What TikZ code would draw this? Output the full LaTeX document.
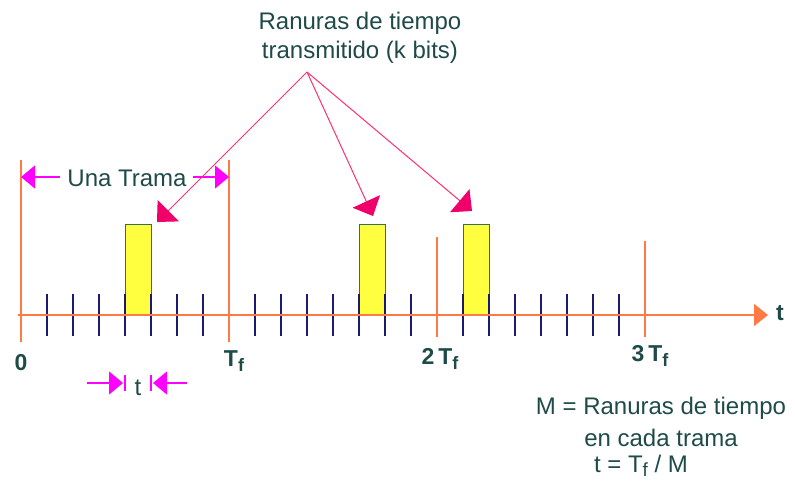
\documentclass[tikz,border=0pt]{standalone}
\usepackage{fontspec}
\setmainfont{Liberation Sans}
\usetikzlibrary{arrows.meta}
\definecolor{txt}{HTML}{1E4A48}
\definecolor{navy}{HTML}{1A1A70}
\definecolor{orng}{HTML}{FF7A45}
\definecolor{mag}{HTML}{FF00FF}
\definecolor{crim}{HTML}{F0006A}
\definecolor{pinkln}{HTML}{FF2F70}
\definecolor{slotfill}{HTML}{FFFF40}
\definecolor{slotedge}{HTML}{2F6F60}
\begin{document}
\begin{tikzpicture}[x=1pt,y=-1pt,
  lbl/.style={text=txt,font=\fontsize{24}{29}\selectfont,inner sep=0pt},
  blbl/.style={text=txt,font=\fontsize{23}{29}\selectfont\bfseries,inner sep=0pt},
  tickln/.style={navy,line width=1.4pt},
  frameln/.style={orng,line width=1.2pt},
  slotbox/.style={draw=slotedge,fill=slotfill,line width=1.3pt,minimum width=26pt,minimum height=90pt,inner sep=0pt},
  marrow/.style={mag,line width=1.2pt,-{Triangle[length=14pt,width=23pt]}},
  parrow/.style={pinkln,line width=1pt,-{Triangle[length=16pt,width=30pt,color=crim]}}
]
\useasboundingbox (0,0) rectangle (795,485);
% frame lines
\draw[frameln] (21,160) coordinate (f0t) -- (21,342) coordinate (f0b);
\draw[frameln] (229,160) coordinate (f1t) -- (229,342) coordinate (f1b);
\draw[frameln] (437,237) coordinate (f2t) -- (437,337) coordinate (f2b);
\draw[frameln] (645,241) coordinate (f3t) -- (645,337) coordinate (f3b);
% slots
\node[slotbox,anchor=south west] (s1) at (125,315) {};
\node[slotbox,anchor=south west] (s2) at (359,315) {};
\node[slotbox,anchor=south west] (s3) at (463,315) {};
% ticks
\foreach \x in {47,73,99,125,151,177,203,255,281,307,333,359,385,411,463,489,515,541,567,593,619}
  \draw[tickln] (\x,294) -- (\x,336);
% axis
\coordinate (ax0) at (18,315);
\node[blbl,anchor=west] (tlab) at (776,313) {t};
\draw[orng,line width=1.4pt,-{Triangle[length=14pt,width=22pt]}] (ax0) -- (768,315);
% axis labels
\node[blbl] (l0) at (21,363) {0};
\node[blbl] (l1) at (234,361) {T\raisebox{-0.35ex}{\fontsize{18}{20}\selectfont f}};
\node[blbl] (l2) at (440,359) {2\,T\raisebox{-0.35ex}{\fontsize{18}{20}\selectfont f}};
\node[blbl] (l3) at (650,356) {3\,T\raisebox{-0.35ex}{\fontsize{18}{20}\selectfont f}};
% Una Trama
\node[lbl] (una) at (127,178) {Una Trama};
\draw[marrow] (60,177) -- (f0t |- 0,177);
\draw[marrow] (193,177) -- (f1t |- 0,177);
% t marker
\node[lbl] (tm) at (138,388) {t};
\draw[mag,line width=1.2pt] (125,375) coordinate (b1) -- (125,391);
\draw[mag,line width=1.2pt] (151,375) coordinate (b2) -- (151,391);
\draw[marrow] (87,383) -- (123,383);
\draw[marrow] (187,383) -- (153,383);
% top label and pointers
\node[lbl,align=center] (top) at (360,38) {Ranuras de tiempo\\transmitido (k bits)};
\coordinate (src) at (307,72);
\draw[parrow] (src) -- (157,222);
\draw[parrow] (src) -- (373,216);
\draw[parrow] (src) -- (472,211);
% bottom notes
\node[lbl] (n1) at (661,408) {M = Ranuras de tiempo};
\node[lbl] (n2) at (661,438) {en cada trama};
\node[lbl] (n3) at (641,466) {t = T\raisebox{-0.35ex}{\fontsize{19}{20}\selectfont f} / M};
\end{tikzpicture}
\end{document}
